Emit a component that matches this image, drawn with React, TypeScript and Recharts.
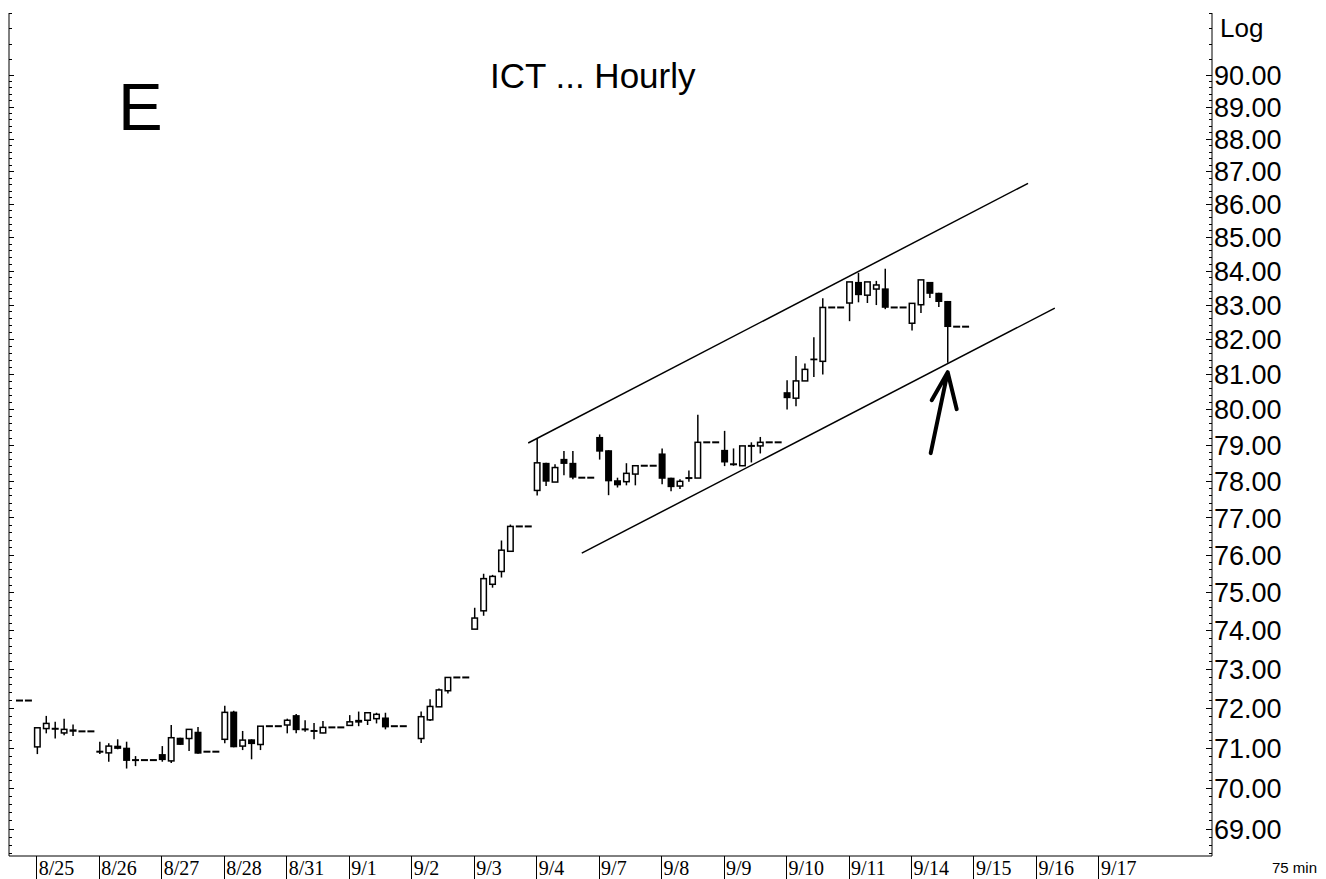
import React from 'react';
import { ComposedChart, Bar, XAxis, YAxis, ReferenceLine, ReferenceDot } from 'recharts';

// 75 min bars, index 0 = first slot on the chart (two bars before 8/25)
const opens = [
  72.2, 72.2, 71.03, 71.49, 71.49, 71.38, 71.47, 71.42, 71.42,
  70.92, 70.88, 71.06, 71.01, 70.71, 70.7, 70.7,
  70.85, 70.68, 71.26, 71.24, 71.41, 70.91, 70.91,
  71.22, 71.92, 71.05, 71.22, 71.09, 71.55, 71.55,
  71.58, 71.83, 71.48, 71.44, 71.38, 71.52, 71.52,
  71.57, 71.71, 71.7, 71.74, 71.77, 71.55, 71.55,
  null, 71.24, 71.71, 72.04, 72.45, 72.79, 72.79,
  74.04, 74.52, 75.22, 75.56, 76.1, 76.77, 76.77,
  77.75, 78.51, 77.98, 78.62, 78.51, 78.1, 78.1,
  79.23, 78.86, 78.03, 77.99, 78.2, 78.43, 78.43,
  78.77, 78.1, 77.87, 78.1, 78.09, 79.08, 79.08,
  78.87, 78.48, 78.43, 78.98, 78.98, 79.08, 79.08,
  80.49, 80.32, 80.81, 81.45, 81.37, 82.93, 82.93,
  83.06, 83.68, 83.29, 83.47, 83.49, 82.93, 82.93,
  82.47, 83.01, 83.68, 83.36, 83.12, 82.37, 82.37,
];
const highs = [
  72.2, 72.2, 71.51, 71.81, 71.66, 71.74, 71.59, 71.42, 71.42,
  71.16, 71.12, 71.22, 71.16, 70.8, 70.7, 70.7,
  71.05, 71.58, 71.26, 71.47, 71.53, 70.91, 70.91,
  72.07, 71.94, 71.43, 71.22, 71.55, 71.55, 71.55,
  71.74, 71.86, 71.7, 71.63, 71.68, 71.52, 71.52,
  71.83, 71.92, 71.89, 71.89, 71.89, 71.55, 71.55,
  null, 71.92, 72.23, 72.51, 72.79, 72.79, 72.79,
  74.6, 75.5, 75.47, 76.39, 76.82, 76.77, 76.77,
  79.17, 78.51, 78.47, 78.84, 78.84, 78.1, 78.1,
  79.3, 78.86, 78.1, 78.5, 78.43, 78.43, 78.43,
  78.91, 78.1, 78.06, 78.3, 79.85, 79.08, 79.08,
  79.4, 78.91, 78.98, 79.08, 79.23, 79.08, 79.08,
  80.83, 81.52, 81.31, 82.06, 83.2, 82.93, 82.93,
  83.68, 83.95, 83.68, 83.71, 84.07, 82.93, 82.93,
  83.05, 83.74, 83.68, 83.36, 83.12, 82.37, 82.37,
];
const lows = [
  72.2, 72.2, 70.85, 71.37, 71.24, 71.32, 71.3, 71.42, 71.42,
  70.85, 70.66, 70.97, 70.49, 70.55, 70.7, 70.7,
  70.66, 70.63, 71.08, 70.93, 70.86, 70.91, 70.91,
  71.12, 71.02, 70.95, 70.72, 70.95, 71.55, 71.55,
  71.37, 71.37, 71.41, 71.22, 71.37, 71.52, 71.52,
  71.56, 71.55, 71.58, 71.62, 71.47, 71.55, 71.55,
  null, 71.13, 71.68, 72.04, 72.38, 72.79, 72.79,
  74.04, 74.39, 75.13, 75.4, 76.1, 76.77, 76.77,
  77.61, 77.87, 77.98, 78.17, 78.06, 78.1, 78.1,
  78.6, 77.62, 77.83, 77.89, 77.89, 78.43, 78.43,
  77.92, 77.73, 77.79, 77.99, 78.09, 79.08, 79.08,
  78.42, 78.43, 78.42, 78.52, 78.77, 79.08, 79.08,
  80.0, 80.09, 80.81, 80.92, 80.99, 82.93, 82.93,
  82.53, 83.08, 83.06, 83.0, 82.88, 82.93, 82.93,
  82.26, 82.77, 83.21, 82.94, 81.33, 82.37, 82.37,
];
const closes = [
  72.2, 72.2, 71.51, 71.62, 71.48, 71.47, 71.41, 71.42, 71.42,
  70.9, 71.05, 70.98, 70.68, 70.69, 70.7, 70.7,
  70.7, 71.26, 71.08, 71.47, 70.86, 70.91, 70.91,
  71.9, 71.02, 71.2, 71.1, 71.55, 71.55, 71.55,
  71.7, 71.45, 71.46, 71.42, 71.52, 71.52, 71.52,
  71.66, 71.64, 71.89, 71.85, 71.52, 71.55, 71.55,
  null, 71.79, 72.05, 72.47, 72.79, 72.79, 72.79,
  74.33, 75.37, 75.43, 76.13, 76.77, 76.77, 76.77,
  78.51, 77.99, 78.38, 78.48, 78.1, 78.1, 78.1,
  78.82, 78.0, 77.89, 78.22, 78.43, 78.43, 78.43,
  78.07, 77.84, 78.0, 78.08, 79.08, 79.08, 79.08,
  78.52, 78.46, 78.98, 78.98, 79.08, 79.08, 79.08,
  80.32, 80.81, 81.14, 81.4, 82.93, 82.93, 82.93,
  83.68, 83.29, 83.68, 83.59, 82.92, 82.93, 82.93,
  83.05, 83.74, 83.33, 83.09, 82.36, 82.37, 82.37,
];

const dayLabels = [
  '8/25', '8/26', '8/27', '8/28', '8/31', '9/1', '9/2', '9/3', '9/4',
  '9/7', '9/8', '9/9', '9/10', '9/11', '9/14', '9/15', '9/16', '9/17',
];
const dayStarts = [2, 9, 16, 23, 30, 37, 44, 51, 58, 65, 72, 79, 86, 93, 100, 107, 114, 121];
const priceLabels = [69, 70, 71, 72, 73, 74, 75, 76, 77, 78, 79, 80, 81, 82, 83, 84, 85, 86, 87, 88, 89, 90];

// channel lines drawn on the chart (bar index, price)
const upperChannel = [{ x: 57, y: 79.06 }, { x: 113, y: 86.64 }];
const lowerChannel = [{ x: 63, y: 76.05 }, { x: 116, y: 82.91 }];
const arrowTip = { x: 104, y: 81.06 };

const SLOTS = 134;
const DOMAIN: [number, number] = [68.35, 92];

const data = Array.from({ length: SLOTS }, (_, i) => ({
  i,
  o: opens[i] ?? null,
  h: highs[i] ?? null,
  l: lows[i] ?? null,
  c: closes[i] ?? null,
}));

// minor ticks every 0.2 up to 90, every 0.5 above
const yTicks: number[] = [];
for (let k = 342; k <= 450; k++) yTicks.push(k / 5);
yTicks.push(90.5, 91, 91.5, 92);

const Candle = (props: any) => {
  const { x, y, width, height, payload } = props;
  if (!payload || payload.o == null || !Number.isFinite(y)) return <g />;
  const { o, h, l, c } = payload;
  const lh = Math.log(h);
  const ll = Math.log(l);
  const py = (v: number) => (lh > ll ? y + (height * (lh - Math.log(v))) / (lh - ll) : y);
  const cx = x + width / 2;
  const yo = py(o);
  const yc = py(c);
  const wick =
    h > l ? <line x1={cx} x2={cx} y1={y} y2={y + height} stroke="#000" strokeWidth={1.5} /> : null;
  if (Math.abs(yo - yc) < 1.5) {
    const ym = (yo + yc) / 2;
    return (
      <g>
        {wick}
        <line x1={x} x2={x + width} y1={ym} y2={ym} stroke="#000" strokeWidth={2} />
      </g>
    );
  }
  const top = Math.min(yo, yc);
  const bh = Math.abs(yo - yc);
  if (c > o) {
    return (
      <g>
        {wick}
        <rect x={x + 0.75} y={top} width={width - 1.5} height={bh} fill="#fff" stroke="#000" strokeWidth={1.5} />
      </g>
    );
  }
  return (
    <g>
      {wick}
      <rect x={x} y={top} width={width} height={bh} fill="#000" />
    </g>
  );
};

const RightTick = (props: any) => {
  const { x, y, payload } = props;
  const v = payload.value;
  const major = priceLabels.includes(v);
  return (
    <g>
      <line x1={x - (major ? 6 : 3)} x2={x} y1={y} y2={y} stroke="#000" shapeRendering="crispEdges" />
      {major && (
        <text x={x + 2} y={y} dy="0.36em" fontFamily="Liberation Sans, Arial, sans-serif" fontSize={27} fill="#000">
          {v.toFixed(2)}
        </text>
      )}
    </g>
  );
};

const LeftTick = (props: any) => {
  const { x, y, payload } = props;
  const major = priceLabels.includes(payload.value);
  return <line x1={x} x2={x + (major ? 5 : 3)} y1={y} y2={y} stroke="#000" shapeRendering="crispEdges" />;
};

const DateTick = (props: any) => {
  const { x, y, payload } = props;
  const k = dayStarts.indexOf(payload.value);
  if (k < 0) return <g />;
  return (
    <g>
      <line x1={x - 0.5} x2={x - 0.5} y1={y} y2={879} stroke="#000" shapeRendering="crispEdges" />
      <text x={x + 1.5} y={875} fontFamily="Liberation Serif, serif" fontSize={20} fill="#000">
        {dayLabels[k]}
      </text>
    </g>
  );
};

const Arrow = (props: any) => {
  const { cx, cy } = props;
  if (!Number.isFinite(cx)) return <g />;
  return (
    <path
      d={`M${cx - 17},${cy + 81} L${cx},${cy} M${cx - 16},${cy + 28} L${cx},${cy} L${cx + 9},${cy + 37}`}
      stroke="#000"
      strokeWidth={4}
      strokeLinecap="round"
      strokeLinejoin="round"
      fill="none"
    />
  );
};

export default function App() {
  return (
    <div style={{ position: 'absolute', left: 0, top: 0, width: 1326, height: 879, background: '#fff' }}>
      <ComposedChart width={1326} height={879} data={data} margin={{ top: 13, right: 0, bottom: 0, left: 0 }}>
        <XAxis
          dataKey="i"
          type="category"
          interval={0}
          height={23}
          tickSize={0}
          tickMargin={0}
          tickLine={false}
          tick={DateTick}
          padding={{ left: 6, right: 1 }}
          axisLine={{ stroke: '#000' }}
        />
        <YAxis
          yAxisId="left"
          orientation="left"
          width={9}
          scale="log"
          type="number"
          domain={DOMAIN}
          allowDataOverflow
          ticks={yTicks}
          interval={0}
          tickSize={0}
          tickMargin={0}
          tickLine={false}
          tick={LeftTick}
          axisLine={{ stroke: '#000' }}
        />
        <YAxis
          yAxisId="right"
          orientation="right"
          width={114}
          scale="log"
          type="number"
          domain={DOMAIN}
          allowDataOverflow
          ticks={yTicks}
          interval={0}
          tickSize={0}
          tickMargin={0}
          tickLine={false}
          tick={RightTick}
          axisLine={{ stroke: '#000' }}
        />
        <Bar
          yAxisId="right"
          dataKey={(d: any) => (d.o == null ? null : [d.l, d.h])}
          barSize={7}
          shape={Candle}
          isAnimationActive={false}
        />
        <ReferenceLine yAxisId="right" segment={upperChannel} stroke="#000" strokeWidth={1.5} ifOverflow="visible" />
        <ReferenceLine yAxisId="right" segment={lowerChannel} stroke="#000" strokeWidth={1.5} ifOverflow="visible" />
        <ReferenceDot yAxisId="right" x={arrowTip.x} y={arrowTip.y} shape={Arrow} ifOverflow="visible" />
      </ComposedChart>
      <svg
        width={1326}
        height={879}
        style={{ position: 'absolute', left: 0, top: 0, pointerEvents: 'none' }}
        fontFamily="Liberation Sans, Arial, sans-serif"
      >
        <text x={118} y={130} fontSize={67} fill="#000">E</text>
        <text x={490} y={88} fontSize={35} fill="#000">ICT ... Hourly</text>
        <text x={1220} y={37} fontSize={26} fill="#000">Log</text>
        <text x={1272} y={873} fontSize={15} fill="#000">75 min</text>
      </svg>
    </div>
  );
}
